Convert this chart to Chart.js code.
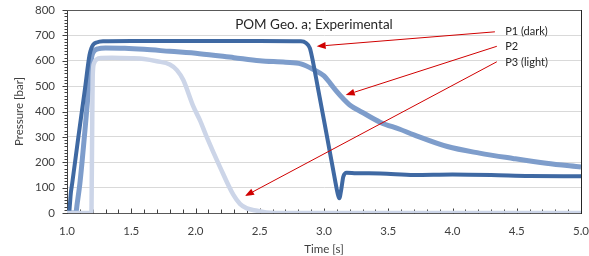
<!DOCTYPE html>
<html><head><meta charset="utf-8">
<script src="https://cdn.jsdelivr.net/npm/chart.js@4/dist/chart.umd.min.js"></script>
<style>html,body{margin:0;padding:0;background:#fff;}#wrap{width:589px;height:256px;}</style>
</head><body><div id="wrap"><canvas id="c" width="589" height="256"></canvas></div>
<script>
// ---- data ----
const chartTitle = 'POM Geo. a; Experimental';
const xAxisTitle = 'Time [s]';
const yAxisTitle = 'Pressure [bar]';
const seriesNames = ['P1 (dark)', 'P2', 'P3 (light)'];

const timeP1 = [1.0,1.016,1.022,1.03,1.04,1.09,1.14,1.175,1.19,1.205,1.23,1.28,1.5,2.0,2.5,2.82,2.86,2.89,2.917,2.95,3.0,3.05,3.086,3.105,3.119,3.135,3.15,3.177,3.25,3.44,3.7,4.0,4.3,4.6,5.0];
const presP1 = [0,0,30,80,115,305,490,622,650,664,672,677,678,678,678,677,670,650,589,500,365,228,130,80,58,95,143,159,157,156,150,152,150,146,145];

const timeP2 = [1.0,1.068,1.08,1.10,1.14,1.174,1.192,1.21,1.24,1.3,1.45,1.6,1.8,2.03,2.3,2.5,2.7,2.82,2.92,3.0,3.05,3.1,3.15,3.2,3.3,3.44,3.59,3.7,3.96,4.21,4.47,4.73,5.0];
const presP2 = [0,0,40,115,327,524,615,638,647,650,649,645,637,628,612,600,594,588,565,540,510,478,450,426,396,357,330,308,262,236,215,196,181];

const timeP3 = [1.0,1.19,1.193,1.197,1.2,1.21,1.23,1.27,1.35,1.5,1.6,1.7,1.8,1.855,1.905,1.983,2.035,2.087,2.19,2.294,2.346,2.4,2.48,2.55,2.62,5.0];
const presP3 = [0,0,150,400,540,590,605,611,612,610,607,598,585,563,524,420,365,300,182,72,36,18,9,2,0,0];

const xMin = 1.0, xMax = 5.0, xStep = 0.5, xMinorStep = 0.1;
const yMin = 0, yMax = 800, yStep = 100, yMinorStep = 12.5;

// annotation callouts (data units): label anchor, arrow tail, arrow tip
const callouts = [
  {text: seriesNames[0], at: [4.41, 703], from: [4.33, 714], to: [2.943, 657]},
  {text: seriesNames[1], at: [4.41, 642], from: [4.345, 657], to: [3.169, 465]},
  {text: seriesNames[2], at: [4.41, 581], from: [4.345, 596], to: [2.385, 67]}
];

const pts = (t, v) => t.map((x, i) => ({x: x, y: v[i]}));
const FONT = 'Lato, "Liberation Sans", sans-serif';
Chart.defaults.font.family = FONT;
Chart.defaults.color = '#404040';

const ticksPlugin = {
  id: 'minorTicks',
  beforeDatasetsDraw(chart) {
    const {ctx, scales: {x, y}} = chart;
    ctx.save();
    ctx.strokeStyle = '#404040';
    ctx.lineWidth = 1;
    ctx.beginPath();
    const yb = Math.round(y.getPixelForValue(yMin)) + 0.5;
    for (let v = xMin; v <= xMax + 1e-9; v += xMinorStep) {
      const px = Math.round(x.getPixelForValue(v)) + 0.5;
      const major = Math.abs(v / xStep - Math.round(v / xStep)) < 1e-6;
      ctx.moveTo(px, yb);
      ctx.lineTo(px, yb - (major ? 5 : 4));
    }
    const xl = Math.round(x.getPixelForValue(xMin)) + 0.5;
    for (let v = yMin; v <= yMax + 1e-9; v += yMinorStep) {
      const py = Math.round(y.getPixelForValue(v)) + 0.5;
      const major = Math.abs(v / yStep - Math.round(v / yStep)) < 1e-6;
      ctx.moveTo(xl, py);
      ctx.lineTo(xl - (major ? 5 : 3), py);
    }
    ctx.stroke();
    // frame: top and right
    const a = chart.chartArea;
    ctx.strokeStyle = '#595959';
    ctx.beginPath();
    ctx.moveTo(Math.round(a.left), Math.round(a.top) + 0.5);
    ctx.lineTo(Math.round(a.right) + 1, Math.round(a.top) + 0.5);
    ctx.stroke();
    ctx.strokeStyle = '#262626';
    ctx.beginPath();
    ctx.moveTo(Math.round(a.right) + 0.5, Math.round(a.top));
    ctx.lineTo(Math.round(a.right) + 0.5, Math.round(a.bottom) + 1);
    ctx.stroke();
    ctx.restore();
  }
};

const calloutPlugin = {
  id: 'callouts',
  afterDatasetsDraw(chart) {
    const {ctx, scales: {x, y}, chartArea: a} = chart;
    ctx.save();
    // chart title inside plot
    ctx.fillStyle = '#262626';
    ctx.font = '13.5px ' + FONT;
    ctx.textAlign = 'center';
    ctx.textBaseline = 'alphabetic';
    ctx.fillText(chartTitle, (a.left + a.right) / 2 - 10, a.top + 18.5);
    ctx.font = '11px ' + FONT;
    ctx.textAlign = 'left';
    callouts.forEach(c => {
      const x0 = x.getPixelForValue(c.from[0]), y0 = y.getPixelForValue(c.from[1]);
      const x1 = x.getPixelForValue(c.to[0]), y1 = y.getPixelForValue(c.to[1]);
      const ang = Math.atan2(y1 - y0, x1 - x0);
      const L = 9, W = 3.5;
      const bx = x1 - L * Math.cos(ang), by = y1 - L * Math.sin(ang);
      ctx.strokeStyle = '#d00000';
      ctx.fillStyle = '#d00000';
      ctx.lineWidth = 1;
      ctx.beginPath();
      ctx.moveTo(x0, y0);
      ctx.lineTo(bx, by);
      ctx.stroke();
      ctx.beginPath();
      ctx.moveTo(x1, y1);
      ctx.lineTo(bx + W * Math.sin(ang), by - W * Math.cos(ang));
      ctx.lineTo(bx - W * Math.sin(ang), by + W * Math.cos(ang));
      ctx.closePath();
      ctx.fill();
      ctx.fillStyle = '#262626';
      ctx.fillText(c.text, x.getPixelForValue(c.at[0]), y.getPixelForValue(c.at[1]));
    });
    ctx.restore();
  }
};

new Chart(document.getElementById('c'), {
  type: 'line',
  data: {
    datasets: [
      {label: seriesNames[2], data: pts(timeP3, presP3), borderColor: '#ccd5e8', borderWidth: 4.5, order: 0},
      {label: seriesNames[0], data: pts(timeP1, presP1), borderColor: '#3f69a3', borderWidth: 4, order: 1},
      {label: seriesNames[1], data: pts(timeP2, presP2), borderColor: '#7e9dcb', borderWidth: 5, order: 2}
    ]
  },
  options: {
    responsive: false,
    animation: false,
    devicePixelRatio: 1,
    parsing: false,
    elements: {point: {radius: 0}, line: {cubicInterpolationMode: 'monotone', fill: false}},
    layout: {padding: {top: 10, right: 8, left: 0, bottom: 0}},
    plugins: {legend: {display: false}, tooltip: {enabled: false}, title: {display: false}},
    scales: {
      x: {
        type: 'linear', min: xMin, max: xMax,
        afterFit(s) { s.height = 43; s.paddingLeft = 0; s.paddingRight = 0; },
        ticks: {stepSize: xStep, padding: 11, font: {size: 11.5}, color: '#404040', maxRotation: 0,
          callback: v => Number(v).toFixed(1)},
        grid: {display: false, drawTicks: false},
        border: {display: true, color: '#595959', width: 1},
        title: {display: true, text: xAxisTitle, font: {size: 11.5}, color: '#404040', padding: {top: 0, bottom: 0}}
      },
      y: {
        type: 'linear', min: yMin, max: yMax,
        afterFit(s) { s.width = 67; s.paddingTop = 0; s.paddingBottom = 0; },
        ticks: {stepSize: yStep, padding: 12, font: {size: 11.5}, color: '#404040'},
        grid: {color: '#d9d9d9', drawTicks: false, lineWidth: 1},
        border: {display: true, color: '#404040', width: 1},
        title: {display: true, text: yAxisTitle, font: {size: 11.5}, color: '#404040', padding: {top: 12, bottom: 0}}
      }
    }
  },
  plugins: [ticksPlugin, calloutPlugin]
});
</script></body></html>
